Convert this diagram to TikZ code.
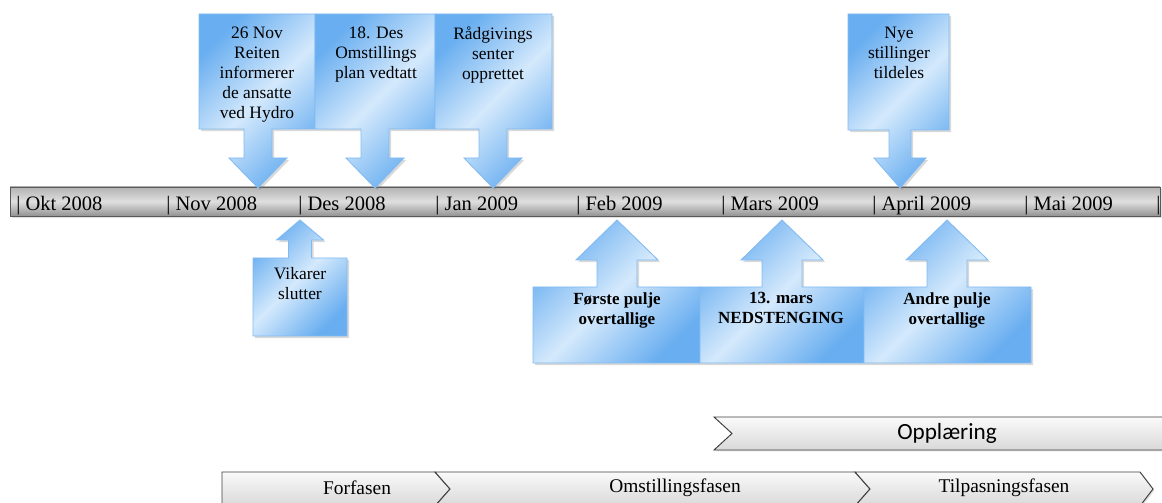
\documentclass[tikz,border=0pt]{standalone}
\usepackage{fontspec}
\setmainfont{Liberation Serif}
\newfontfamily\timesfont{Liberation Serif}
\newfontfamily\calibrifont{Carlito}
\usetikzlibrary{shadows}

\definecolor{calloutdark}{RGB}{105,174,240}
\definecolor{calloutlight}{RGB}{212,233,252}
\definecolor{calloutedge}{RGB}{128,186,242}

\begin{document}
\begin{tikzpicture}[
          x=0.025cm, y=-0.025cm,
          callout/.style={draw=calloutedge, line width=0.6pt,
            left color=calloutdark, right color=calloutdark, middle color=calloutlight,
            shading angle=45,
            drop shadow={shadow xshift=1.5pt, shadow yshift=-1.5pt, opacity=0.3}},
          timebar/.style={draw=black!65, line width=0.6pt,
            top color=gray!60, bottom color=gray!85, middle color=gray!25,
            drop shadow={shadow xshift=1.5pt, shadow yshift=-1.5pt, opacity=0.25}},
          phase/.style={draw=black!75, line width=0.7pt,
            top color=gray!4, bottom color=gray!30,
            drop shadow={shadow xshift=1pt, shadow yshift=-1pt, opacity=0.25}},
          month/.style={anchor=base west, inner sep=0pt,
            font=\timesfont\fontsize{14.6}{17}\selectfont},
          toptext/.style={anchor=north, align=center, inner sep=0pt,
            font=\timesfont\fontsize{12.4}{14.2}\selectfont},
          lowtext/.style={anchor=north, align=center, inner sep=0pt,
            font=\timesfont\bfseries\fontsize{12.1}{14.2}\selectfont},
          phasetext/.style={inner sep=0pt, font=\timesfont\fontsize{13.8}{16}\selectfont}
        ]
        \clip (0,0) rectangle (1162,503);

        % Timeline
        \path[timebar] (10,187) rectangle (1160,216);
        \node[month] (okt) at (16,211) {| Okt 2008};
        \node[month] (nov) at (166,211) {| Nov 2008};
        \node[month] (des) at (298,211) {| Des 2008};
        \node[month] (jan) at (435,211) {| Jan 2009};
        \node[month] (feb) at (576,211) {| Feb 2009};
        \node[month] (mar) at (721,211) {| Mars 2009};
        \node[month] (apr) at (872,211) {| April 2009};
        \node[month] (mai) at (1024,211) {| Mai 2009};
        \node[month] (end) at (1156,211) {|};

        % Above the timeline
        \path[callout] (199,14) -- (315,14) -- (315,129) -- (272,129) -- (272,158) -- (287,158)
          -- (258,188) -- (229,158) -- (244,158) -- (244,129) -- (199,129) -- cycle;
        \node[toptext] (reiten) at (257,27) {26 Nov\\Reiten\\informerer\\de ansatte\\ved Hydro};

        \path[callout] (315,14) -- (435,14) -- (435,129) -- (389,129) -- (389,158) -- (404,158)
          -- (375,188) -- (346,158) -- (361,158) -- (361,129) -- (315,129) -- cycle;
        \node[toptext] (plan) at (376,27) {18. Des\\Omstillings\\plan vedtatt};

        \path[callout] (435,14) -- (552,14) -- (552,129) -- (507,129) -- (507,158) -- (522,158)
          -- (493,188) -- (464,158) -- (479,158) -- (479,129) -- (435,129) -- cycle;
        \node[toptext] (senter) at (493,27) {Rådgivings\\senter\\opprettet};

        \path[callout] (848,14) -- (949,14) -- (949,130) -- (911,130) -- (911,158) -- (926,158)
          -- (900,188) -- (874,158) -- (889,158) -- (889,130) -- (848,130) -- cycle;
        \node[toptext] (nye) at (899,27) {Nye\\stillinger\\tildeles};

        % Below the timeline
        \path[callout] (253,336) -- (347,336) -- (347,258) -- (311.5,258) -- (311.5,240) -- (323.5,240)
          -- (300,220) -- (276.5,240) -- (288.5,240) -- (288.5,258) -- (253,258) -- cycle;
        \node[toptext] (vikarer) at (300,267) {Vikarer\\slutter};

        \path[callout] (533,363) -- (700,363) -- (700,287) -- (637,287) -- (637,260) -- (658,260)
          -- (617,220) -- (576,260) -- (597,260) -- (597,287) -- (533,287) -- cycle;
        \node[lowtext] (forste) at (617,292) {Første pulje\\overtallige};

        \path[callout] (700,363) -- (864,363) -- (864,287) -- (802,287) -- (802,260) -- (823,260)
          -- (782,220) -- (741,260) -- (762,260) -- (762,287) -- (700,287) -- cycle;
        \node[lowtext] (stenging) at (781,292) {13. mars\\NEDSTENGING};

        \path[callout] (864,363) -- (1031,363) -- (1031,287) -- (967,287) -- (967,260) -- (988,260)
          -- (947,220) -- (906,260) -- (927,260) -- (927,287) -- (864,287) -- cycle;
        \node[lowtext] (andre) at (947,292) {Andre pulje\\overtallige};

        % Phases
        \path[phase] (714,417) -- (1180,417) -- (1195,433.5) -- (1180,450) -- (714,450)
          -- (732,433.5) -- cycle;
        \node[phasetext, font=\calibrifont\fontsize{16.5}{19}\selectfont] (opplaering) at (947,433) {Opplæring};

        \path[phase] (222,472) -- (435,472) -- (450,489) -- (435,506) -- (222,506) -- cycle;
        \path[phase] (435,472) -- (855,472) -- (870,489) -- (855,506) -- (435,506) -- (450,489) -- cycle;
        \path[phase] (855,472) -- (1140,472) -- (1153,489) -- (1140,506) -- (855,506) -- (870,489) -- cycle;
        \node[phasetext] (forfasen) at (357,488) {Forfasen};
        \node[phasetext] (omstilling) at (675,488) {Omstillingsfasen};
        \node[phasetext] (tilpasning) at (1004,488) {Tilpasningsfasen};

      \end{tikzpicture}
\end{document}
